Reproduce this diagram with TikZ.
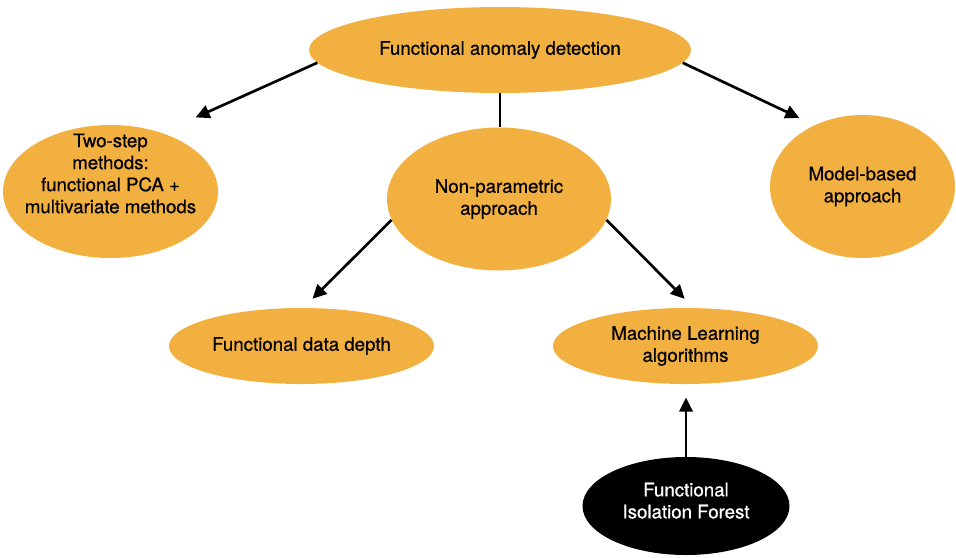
\documentclass[tikz,border=0pt]{standalone}
\usepackage{fontspec}
\setmainfont{TeX Gyre Heros}[RawFeature={embolden=0.7}]
\usetikzlibrary{shapes.geometric,arrows.meta}
\definecolor{orangefill}{RGB}{242,176,64}
\tikzset{
  blob/.style={ellipse, fill=orangefill, draw=none, inner sep=0pt},
  darkblob/.style={ellipse, fill=black, draw=none, inner sep=0pt},
  txt/.style={font=\fontsize{14}{16.5}\selectfont, align=center, text=black, inner sep=0pt},
  wtxt/.style={txt, text=white},
  conn/.style={line width=2pt, -{Triangle[length=10.5pt,width=10pt]}},
  plainline/.style={line width=2pt},
}
\begin{document}
\begin{tikzpicture}[x=0.75pt, y=-0.75pt]
\useasboundingbox (0,0) rectangle (956,557);
\node[blob, minimum width=286.5pt, minimum height=64.5pt,
      label={[txt]center:Functional anomaly detection}] (top) at (500,50) {};
\node[blob, minimum width=161.25pt, minimum height=99.75pt,
      label={[txt, yshift=13.5pt]center:Two-step\\methods:\\functional PCA +\\multivariate methods}] (two) at (110.5,191.5) {};
\node[blob, minimum width=168pt, minimum height=107.25pt,
      label={[txt]center:Non-parametric\\approach}] (nonp) at (499,199) {};
\node[blob, minimum width=138.75pt, minimum height=107.25pt,
      label={[txt]center:Model-based\\approach}] (model) at (862.5,186.5) {};
\node[blob, minimum width=198.75pt, minimum height=57pt,
      label={[txt]center:Functional data depth}] (depth) at (301.5,346) {};
\node[blob, minimum width=198.75pt, minimum height=57pt,
      label={[txt]center:Machine Learning\\algorithms}] (ml) at (685.5,346) {};
\node[darkblob, minimum width=155.25pt, minimum height=73.5pt,
      label={[wtxt, yshift=4pt]center:Functional\\Isolation Forest}] (fif) at (686,506) {};

\draw[conn, shorten >=28pt] (top.184) -- (two.49);
\draw[conn, shorten >=12.6pt] (top.356) -- (model.128);
\draw[plainline] (top.south) -- (top.south |- nonp.north);
\draw[conn, shorten >=9.5pt] (nonp.191) -- (depth.87);
\draw[conn, shorten >=9.5pt] (nonp.349) -- (ml.78);
\draw[conn, shorten >=10pt] (fif.north) -- (fif.north |- ml.south);
\end{tikzpicture}
\end{document}
